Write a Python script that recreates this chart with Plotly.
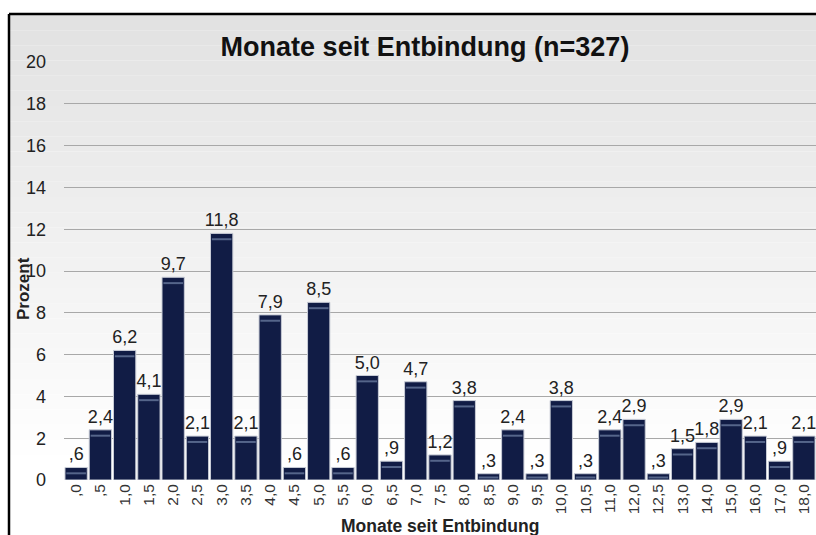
import plotly.graph_objects as go

categories = [",0", ",5", "1,0", "1,5", "2,0", "2,5", "3,0", "3,5", "4,0", "4,5",
              "5,0", "5,5", "6,0", "6,5", "7,0", "7,5", "8,0", "8,5", "9,0", "9,5",
              "10,0", "10,5", "11,0", "12,0", "12,5", "13,0", "14,0", "15,0", "16,0",
              "17,0", "18,0"]
values = [0.6, 2.4, 6.2, 4.1, 9.7, 2.1, 11.8, 2.1, 7.9, 0.6,
          8.5, 0.6, 5.0, 0.9, 4.7, 1.2, 3.8, 0.3, 2.4, 0.3,
          3.8, 0.3, 2.4, 2.9, 0.3, 1.5, 1.8, 2.9, 2.1, 0.9, 2.1]
y_ticks = [0, 2, 4, 6, 8, 10, 12, 14, 16, 18, 20]


def de_label(v):
    s = f"{v:.1f}".replace(".", ",")
    if s.startswith("0,"):
        s = s[1:]
    return s


labels = [de_label(v) for v in values]

fig = go.Figure()
fig.add_trace(go.Bar(
    x=categories, y=values, text=labels, textposition="outside",
    textfont=dict(family="Liberation Sans, Arial", size=18, color="#222222"),
    cliponaxis=False, constraintext="none",
    marker=dict(color="#111c45", line=dict(color="#c8ccd6", width=1)),
    width=0.92,
))
# subtle highlight near bar tops
fig.add_trace(go.Scatter(
    x=categories, y=[max(v - 0.28, 0.12) for v in values], mode="markers",
    marker=dict(symbol="line-ew", size=14, line=dict(color="#55658a", width=2)),
    hoverinfo="skip", showlegend=False,
))

W, H = 816, 535
ml, mr, mt, mb = 64, 0, 62, 55
pw, ph = W - ml - mr, H - mt - mb


def px(x):
    return (x - ml) / pw


def py(y):
    return (H - mb - y) / ph


shapes = []
# gradient background (light grey top to white bottom)
n = 30
top, bot = 15, 470
for i in range(n):
    y0 = top + (bot - top) * i / n
    y1 = top + (bot - top) * (i + 1) / n
    t = i / (n - 1)
    c = int(226 + (255 - 226) * t)
    shapes.append(dict(type="rect", xref="paper", yref="paper",
                       x0=px(9), x1=px(W), y0=py(y1), y1=py(y0),
                       fillcolor=f"rgb({c},{c},{c})", line=dict(width=0), layer="below"))
shapes.append(dict(type="rect", xref="paper", yref="paper",
                   x0=px(9), x1=px(W), y0=py(H), y1=py(bot),
                   fillcolor="white", line=dict(width=0), layer="below"))
# black frame (left and top)
shapes.append(dict(type="line", xref="paper", yref="paper",
                   x0=px(9), x1=px(W + 5), y0=py(14), y1=py(14),
                   line=dict(color="black", width=2.5)))
shapes.append(dict(type="line", xref="paper", yref="paper",
                   x0=px(9), x1=px(9), y0=py(14), y1=py(H + 5),
                   line=dict(color="black", width=2.5)))

fig.update_layout(
    width=W, height=H,
    margin=dict(l=ml, r=mr, t=mt, b=mb, autoexpand=False),
    paper_bgcolor="white", plot_bgcolor="rgba(0,0,0,0)",
    showlegend=False, bargap=0.08,
    font=dict(family="Liberation Sans, Arial", color="#222222"),
    title=dict(text="<b>Monate seit Entbindung (n=327)</b>", x=425 / W, xanchor="center",
               y=1 - 47 / H, yanchor="middle",
               font=dict(size=27, color="#111111")),
    shapes=shapes,
    annotations=[
        dict(text="<b>Monate seit Entbindung</b>", xref="paper", yref="paper",
             x=px(440), y=py(526), xanchor="center", yanchor="middle",
             showarrow=False, font=dict(size=17.5, color="#222222")),
        dict(text="<b>Prozent</b>", xref="paper", yref="paper",
             x=px(23), y=py(289), xanchor="center", yanchor="middle", textangle=-90,
             showarrow=False, font=dict(size=17, color="#222222")),
    ],
    xaxis=dict(type="category", range=[-0.5, 30.5], tickangle=-90, automargin=False,
               tickfont=dict(size=15.5, color="#333333"), showgrid=False,
               ticks="", showline=False),
    yaxis=dict(range=[0, 20], tickvals=y_ticks, showgrid=True, gridcolor="#a8a8a8",
               gridwidth=1, zeroline=False, tickfont=dict(size=18, color="#222222"),
               ticks="", ticklabelstandoff=17, automargin=False),
)

fig.write_html("out.html", config={"displayModeBar": False},
               post_script="document.body.style.margin='0px';document.body.style.overflow='hidden';")
